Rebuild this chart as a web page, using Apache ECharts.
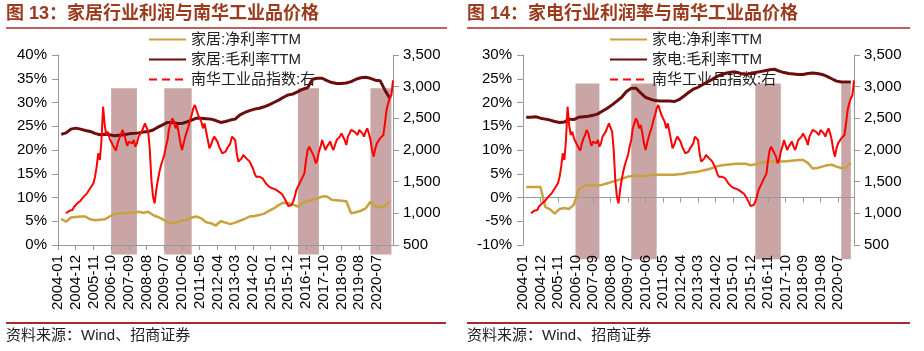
<!DOCTYPE html>
<html>
<head>
<meta charset="utf-8">
<script src="https://cdn.jsdelivr.net/npm/echarts@6/dist/echarts.min.js"></script>
<style>
  html, body { margin: 0; padding: 0; background: #fff; }
  #chart { width: 924px; height: 351px; }
</style>
</head>
<body>
<div id="chart"></div>
<script>
// monthly category axis, 2004-01 .. 2021-05
const months = [];
for (let y = 2004; y <= 2021; y++) {
  for (let m = 1; m <= 12; m++) {
    const s = y + '-' + String(m).padStart(2, '0');
    months.push(s);
    if (s === '2021-05') break;
  }
}
// quarter-end months for the TTM margins, 2004-03 .. 2021-03
const quarters = months.filter((s, i) => i % 3 === 2 && s <= '2021-03');

// 南华工业品指数, monthly from 2004-06
const nanhuaStart = '2004-06';
const nanhua = [
  1000, 1011, 1042, 1068, 1053, 1105, 1121, 1158, 1147, 1200, 1221, 1263, 1274, 1316, 1342,
  1395, 1421, 1474, 1579, 1737, 1947, 1842, 2158, 2684, 2395, 2237, 2290, 2184, 2158, 2079,
  2053, 1990, 2105, 2184, 2237, 2316, 2263, 2158, 2063, 2132, 2158, 2105, 2158, 2053, 2105,
  2211, 2237, 2290, 2358, 2421, 2447, 2290, 2000, 1526, 1263, 1158, 1368, 1526, 1658, 1763,
  1842, 1921, 2053, 2158, 2342, 2421, 2500, 2447, 2342, 2395, 2263, 2105, 2000, 2105, 2211,
  2290, 2368, 2474, 2553, 2658, 2711, 2632, 2553, 2500, 2447, 2342, 2421, 2290, 2158, 2026,
  2079, 2158, 2211, 2184, 2132, 2053, 2000, 1947, 1921, 1974, 2026, 2053, 2105, 2211, 2237,
  2158, 1947, 1816, 1790, 1868, 1921, 1895, 1868, 1842, 1816, 1763, 1711, 1632, 1579, 1605,
  1579, 1605, 1553, 1526, 1474, 1447, 1421, 1432, 1395, 1405, 1379, 1395, 1342, 1316, 1305,
  1263, 1221, 1168, 1116, 1095, 1132, 1184, 1263, 1368, 1421, 1474, 1500, 1579, 1632, 1842,
  2000, 2053, 2000, 1947, 1895, 1790, 1842, 1974, 2053, 2158, 2184, 2000, 2053, 2079, 2132,
  2053, 2000, 2026, 2158, 2184, 2211, 2263, 2290, 2158, 2079, 2211, 2263, 2316, 2342, 2290,
  2316, 2237, 2316, 2290, 2263, 2211, 2290, 2342, 2263, 2158, 2000, 1895, 2026, 2105, 2132,
  2184, 2184, 2237, 2421, 2632, 2737, 2816, 2868, 3100
];

// 家居 (chart 13), quarterly, %
const homeNet = [
  5.5, 4.9, 5.8, 5.9, 6.0, 6.0, 5.4, 5.2, 5.3, 5.4, 6.0, 6.5, 6.7, 6.7, 6.8, 6.8, 7.0, 6.8,
  7.0, 6.3, 5.9, 5.4, 4.8, 4.6, 4.8, 5.2, 5.3, 5.8, 6.0, 5.6, 4.8, 4.6, 4.1, 5.0, 4.7, 4.4,
  4.7, 5.1, 5.5, 6.0, 6.1, 6.3, 6.6, 7.2, 7.7, 8.4, 8.9, 8.8, 8.5, 8.1, 8.9, 9.3, 9.5, 9.8,
  10.2, 10.2, 9.5, 9.4, 9.3, 9.2, 6.7, 6.9, 7.2, 7.7, 9.1, 8.1, 7.9, 8.2, 9.2
];
const homeGross = [
  23.3, 23.6, 24.4, 24.6, 24.4, 24.1, 23.9, 23.5, 23.2, 23.3, 23.2, 23.0, 23.1, 23.2, 23.4, 23.5, 23.6, 23.8,
  23.9, 24.2, 24.8, 25.3, 25.8, 25.8, 25.6, 25.6, 25.9, 26.3, 26.7, 26.7, 26.6, 26.5, 26.2, 25.8, 26.0, 26.3,
  26.5, 27.4, 27.9, 28.3, 28.6, 28.8, 29.1, 29.5, 30.0, 30.5, 31.1, 31.6, 31.8, 32.3, 32.8, 33.1, 34.9, 35.1,
  35.1, 34.6, 34.2, 34.0, 34.0, 34.1, 34.4, 34.9, 35.2, 35.3, 35.1, 34.7, 34.6, 32.6, 30.9
];
// 家电 (chart 14), quarterly, %
const applNet = [
  2.2, 2.2, 2.2, 2.2, -2.0, -2.5, -3.4, -2.4, -2.2, -2.4, -1.5, 1.7, 2.4, 2.6, 2.7, 2.5, 2.7, 3.0,
  3.3, 3.6, 3.9, 4.3, 4.5, 4.6, 4.6, 4.5, 4.7, 4.8, 4.8, 4.8, 4.8, 4.8, 4.9, 5.0, 5.2, 5.3,
  5.4, 5.7, 5.9, 6.2, 6.6, 6.8, 6.9, 7.0, 7.1, 7.1, 7.1, 6.8, 7.0, 7.3, 7.4, 7.6, 7.6, 7.6,
  7.6, 7.7, 7.8, 7.9, 7.9, 7.3, 6.1, 6.2, 6.5, 6.8, 6.9, 6.5, 6.2, 6.3, 7.3
];
const applGross = [
  16.9, 16.9, 17.0, 16.7, 16.5, 16.3, 16.0, 15.8, 15.9, 16.5, 16.4, 16.9, 17.0, 17.1, 17.3, 17.6, 18.2, 18.8,
  19.5, 20.3, 21.1, 22.3, 23.0, 23.0, 22.0, 21.1, 20.7, 20.4, 20.3, 20.3, 20.3, 20.2, 20.6, 21.3, 22.1, 22.8,
  23.2, 23.8, 24.3, 24.9, 25.5, 25.9, 26.2, 26.4, 26.4, 26.1, 25.9, 26.1, 26.3, 26.5, 26.7, 26.9, 27.0, 26.6,
  26.3, 26.1, 26.0, 25.9, 25.9, 26.1, 26.2, 26.1, 25.9, 25.5, 25.0, 24.5, 24.3, 24.3, 24.3
];

// shaded periods [start, end] and their vertical extent on the left axis
const homeBands = [['2006-10', '2008-02'], ['2009-07', '2010-12'], ['2016-06', '2017-07'], ['2020-03', '2021-04']];
const homeBandRange = [-2, 33];
const applBands = [['2006-10', '2008-01'], ['2009-09', '2011-01'], ['2016-03', '2017-07'], ['2020-09', '2021-03']];
const applBandRange = [-13, 24];

const pctTicks = { home: [0, 40, 5], appl: [-10, 30, 5] };
const idxTicks = [500, 3500, 500];

const FONT = "'Liberation Sans', 'Noto Sans CJK SC', sans-serif";
const C_NET = '#c9a13e';
const C_GROSS = '#6b0d0d';
const C_RED = '#ff0000';
const C_BAND = '#c9a5a5';
const C_AXIS = '#999999';
const C_DECO = '#a52a2a';

const quarterPairs = (vals) => vals.map((v, i) => [quarters[i], v]);
const startIdx = months.indexOf(nanhuaStart);
const nanhuaPairs = nanhua.map((v, i) => [months[startIdx + i], v]);
const bandRows = (bands, range) => bands.map(b => [b[0], b[1], range[0], range[1]]);

function bandSeries(name, xi, yi, rows) {
  return {
    type: 'custom',
    name: name,
    xAxisIndex: xi,
    yAxisIndex: yi,
    silent: true,
    z: 0,
    data: rows,
    encode: { x: [0, 1], y: [2, 3] },
    renderItem: (params, api) => {
      const p0 = api.coord([api.value(0), api.value(3)]);
      const p1 = api.coord([api.value(1), api.value(2)]);
      return {
        type: 'rect',
        shape: { x: p0[0], y: p0[1], width: p1[0] - p0[0], height: p1[1] - p0[1] },
        style: { fill: C_BAND }
      };
    }
  };
}

function lineSeries(name, xi, yi, data, color, width) {
  return {
    type: 'line', name: name, xAxisIndex: xi, yAxisIndex: yi, data: data,
    symbol: 'none', z: 5,
    lineStyle: { color: color, width: width },
    itemStyle: { color: color }
  };
}

function pctAxis(grid, t) {
  return {
    type: 'value', gridIndex: grid, position: 'left', min: t[0], max: t[1], interval: t[2],
    axisLine: { show: true, lineStyle: { color: C_AXIS } },
    axisTick: { show: true, length: 6, lineStyle: { color: C_AXIS } },
    splitLine: { show: false },
    axisLabel: { formatter: '{value}%', fontSize: 15, color: '#000', margin: 11, fontFamily: FONT }
  };
}
function idxAxis(grid) {
  return {
    type: 'value', gridIndex: grid, position: 'right', min: idxTicks[0], max: idxTicks[1], interval: idxTicks[2],
    axisLine: { show: true, lineStyle: { color: C_AXIS } },
    axisTick: { show: true, length: 6, lineStyle: { color: C_AXIS } },
    splitLine: { show: false },
    axisLabel: { formatter: v => v.toLocaleString('en-US'), fontSize: 15, color: '#000', margin: 10, fontFamily: FONT }
  };
}
function monthAxis(grid, opts) {
  return Object.assign({
    type: 'category', gridIndex: grid, data: months, boundaryGap: false, position: 'bottom',
    axisLine: { show: true, onZero: true, lineStyle: { color: C_AXIS } },
    axisTick: { show: true, interval: 10, length: 5, lineStyle: { color: C_AXIS } },
    axisLabel: { show: true, interval: 10, rotate: 90, fontSize: 15, color: '#000', margin: 10, fontFamily: FONT }
  }, opts);
}

function legend(left, names) {
  return {
    orient: 'vertical', left: left, top: 32, padding: 0,
    itemWidth: 37, itemHeight: 14, itemGap: 5,
    itemStyle: { opacity: 0 },
    textStyle: { fontSize: 15, color: '#222', fontFamily: FONT },
    data: [
      { name: names[0] },
      { name: names[1] },
      { name: names[2], lineStyle: { type: [8, 5], width: 2 } }
    ]
  };
}

const chart = echarts.init(document.getElementById('chart'), null, { renderer: 'canvas' });

chart.setOption({
  animation: false,
  textStyle: { fontFamily: FONT },
  title: [
    { text: '图 13：家居行业利润与南华工业品价格', left: 6, top: 5, padding: 0,
      textStyle: { fontSize: 18, fontWeight: 'bold', color: '#9b3a1c', fontFamily: FONT } },
    { text: '图 14：家电行业利润率与南华工业品价格', left: 467, top: 5, padding: 0,
      textStyle: { fontSize: 18, fontWeight: 'bold', color: '#9b3a1c', fontFamily: FONT } },
    { text: '资料来源：Wind、招商证券', left: 6, top: 328, padding: 0,
      textStyle: { fontSize: 15, fontWeight: 'normal', color: '#222', fontFamily: FONT } },
    { text: '资料来源：Wind、招商证券', left: 467, top: 328, padding: 0,
      textStyle: { fontSize: 15, fontWeight: 'normal', color: '#222', fontFamily: FONT } }
  ],
  graphic: [
    { type: 'line', shape: { x1: 6, y1: 28, x2: 447, y2: 28 }, style: { stroke: C_DECO, lineWidth: 1.5 } },
    { type: 'line', shape: { x1: 467, y1: 28, x2: 910, y2: 28 }, style: { stroke: C_DECO, lineWidth: 1.5 } },
    { type: 'line', shape: { x1: 6, y1: 323, x2: 446, y2: 323 }, style: { stroke: C_DECO, lineWidth: 2 } },
    { type: 'line', shape: { x1: 467, y1: 323, x2: 910, y2: 323 }, style: { stroke: C_DECO, lineWidth: 2 } }
  ],
  legend: [
    legend(148, ['家居:净利率TTM', '家居:毛利率TTM', '南华工业品指数:右']),
    legend(609, ['家电:净利率TTM', '家电:毛利率TTM', '南华工业品指数:右'])
  ],
  grid: [
    { left: 58, top: 55, width: 335, height: 190 },
    { left: 523, top: 55, width: 331, height: 190 }
  ],
  xAxis: [
    monthAxis(0, {}),
    monthAxis(1, { axisLabel: { show: false } }),
    monthAxis(1, {
      axisLine: { show: false, onZero: false },
      axisTick: { show: false }
    })
  ],
  yAxis: [
    pctAxis(0, pctTicks.home),
    idxAxis(0),
    pctAxis(1, pctTicks.appl),
    idxAxis(1)
  ],
  series: [
    bandSeries('bands13', 0, 0, bandRows(homeBands, homeBandRange)),
    lineSeries('家居:净利率TTM', 0, 0, quarterPairs(homeNet), C_NET, 2.5),
    lineSeries('家居:毛利率TTM', 0, 0, quarterPairs(homeGross), C_GROSS, 3),
    lineSeries('南华工业品指数:右', 0, 1, nanhuaPairs, C_RED, 2),

    bandSeries('bands14', 1, 2, bandRows(applBands, applBandRange)),
    lineSeries('家电:净利率TTM', 1, 2, quarterPairs(applNet), C_NET, 2.5),
    lineSeries('家电:毛利率TTM', 1, 2, quarterPairs(applGross), C_GROSS, 3),
    lineSeries('南华工业品指数:右', 1, 3, nanhuaPairs, C_RED, 2)
  ]
});
</script>
</body>
</html>
